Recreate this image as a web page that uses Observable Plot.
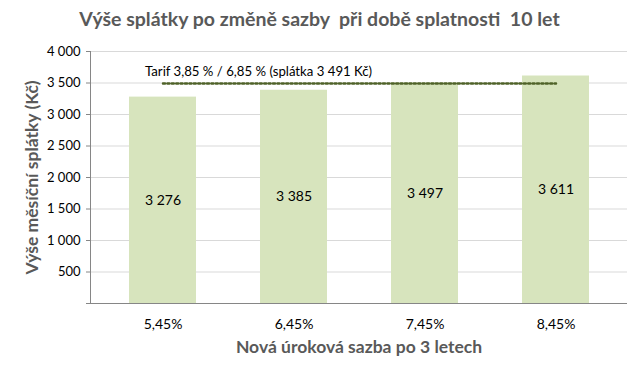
<!DOCTYPE html>
<html><head><meta charset="utf-8">
<script src="https://cdn.jsdelivr.net/npm/d3@7"></script>
<script src="https://cdn.jsdelivr.net/npm/@observablehq/plot@0.6"></script>
<style>
body{margin:0;background:#fff;font-family:Lato,"Open Sans",sans-serif;}
#title{height:36px;line-height:38px;text-align:center;font-size:19.5px;font-weight:bold;color:#595959;width:635px;padding-left:4px;box-sizing:border-box;}
</style></head>
<body>
<div id="title">Výše splátky po změně sazby&nbsp; při době splatnosti&nbsp; 10 let</div>
<div id="chart"></div>
<script>
const categories = ["5,45%", "6,45%", "7,45%", "8,45%"];
const values = [3276, 3385, 3497, 3611];
const yTicks = [0, 500, 1000, 1500, 2000, 2500, 3000, 3500, 4000];
const tariffValue = 3491;
const tariffLabel = "Tarif 3,85 % / 6,85 % (splátka 3 491 Kč)";
const xTitle = "Nová úroková sazba po 3 letech";
const yTitle = "Výše měsíční splátky (Kč)";

const data = categories.map((c, i) => ({cat: c, val: values[i]}));
const fmtSp = v => d3.format(",")(v).replace(/,/g, " ");

const chart = Plot.plot({
  width: 635,
  height: 341,
  marginTop: 15,
  marginBottom: 74,
  marginLeft: 90,
  marginRight: 8,
  style: {fontFamily: "Lato, 'Open Sans', sans-serif", fontSize: "13px", color: "#000"},
  x: {domain: categories, paddingInner: 0.49, paddingOuter: 0.28, label: null},
  y: {domain: [0, 4000], label: null},
  marks: [
    Plot.ruleY(yTicks.filter(d => d > 0), {stroke: "#d9d9d9", strokeWidth: 1}),
    Plot.barY(data, {x: "cat", y: "val", fill: "#d7e4bd"}),
    Plot.ruleY([0], {stroke: "#868686", strokeWidth: 1}),
    Plot.frame({anchor: "left", stroke: "#868686"}),
    Plot.axisY({ticks: yTicks, tickFormat: v => v === 0 ? "" : fmtSp(v), tickSize: 4, tickPadding: 6, stroke: "#868686", fontSize: 13, label: null}),
    Plot.axisX({tickSize: 0, tickPadding: 16, fontSize: 14, label: null}),
    Plot.text(data, {x: "cat", y: d => d.val / 2, text: d => fmtSp(d.val), fontSize: 14, fill: "#000"}),
    Plot.line(categories.map(c => ({cat: c, v: tariffValue})), {x: "cat", y: "v", stroke: "#4f6228", strokeWidth: 2.5, strokeDasharray: "2 2.4"}),
    Plot.text([tariffLabel], {x: () => categories[0], y: () => tariffValue, text: d => d, textAnchor: "start", dx: -18, dy: -12, fontSize: 13.2, fill: "#000"}),
    Plot.text([xTitle], {frameAnchor: "bottom", dy: 49, text: d => d, fontSize: 17.5, fontWeight: "bold", fill: "#595959"}),
    Plot.text([yTitle], {frameAnchor: "left", textAnchor: "middle", dx: -58, rotate: -90, text: d => d, fontSize: 17.5, fontWeight: "bold", fill: "#595959"})
  ]
});
document.getElementById("chart").appendChild(chart);
</script>
</body></html>
